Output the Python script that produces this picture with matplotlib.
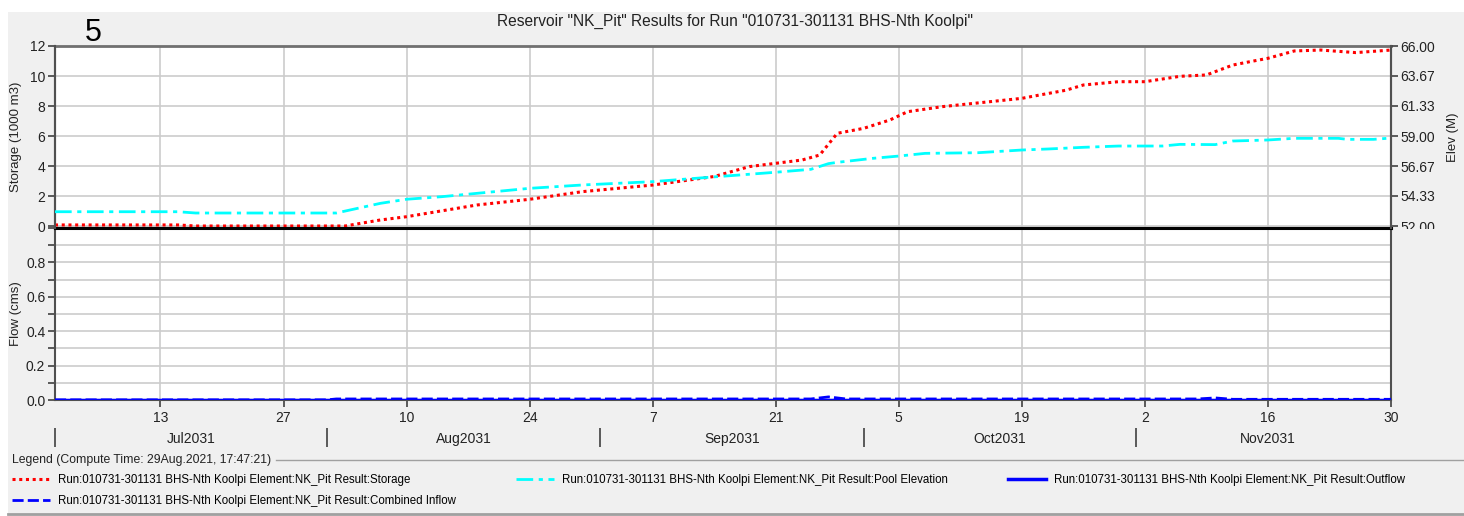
import numpy as np
import pandas as pd
import matplotlib
matplotlib.use('Agg')
import matplotlib.pyplot as plt
import matplotlib.dates as mdates
from matplotlib.lines import Line2D
from matplotlib.patches import Rectangle
from matplotlib.transforms import Bbox, TransformedBbox
from matplotlib.ticker import FixedLocator, NullFormatter, MultipleLocator

plt.rcParams['font.family'] = ['Liberation Sans', 'DejaVu Sans']

# storage (1000 m3)
storage_dates = ['2031-07-01', '2031-07-15', '2031-07-17', '2031-08-03', '2031-08-07', '2031-08-10',
                 '2031-08-18', '2031-08-24', '2031-08-30', '2031-09-07', '2031-09-14', '2031-09-18',
                 '2031-09-21', '2031-09-24', '2031-09-26', '2031-09-28', '2031-10-01', '2031-10-04',
                 '2031-10-06', '2031-10-10', '2031-10-19', '2031-10-21', '2031-10-24', '2031-10-26',
                 '2031-10-30', '2031-11-02', '2031-11-06', '2031-11-09', '2031-11-12', '2031-11-14',
                 '2031-11-16', '2031-11-19', '2031-11-22', '2031-11-26', '2031-11-30']
storage_vals = [0.07, 0.07, 0.0, 0.0, 0.4, 0.62,
                1.4, 1.78, 2.29, 2.73, 3.3, 3.96,
                4.18, 4.4, 4.73, 6.18, 6.51, 7.07,
                7.62, 7.96, 8.51, 8.73, 9.05, 9.4,
                9.62, 9.62, 9.98, 10.07, 10.73, 10.96,
                11.18, 11.67, 11.73, 11.56, 11.73]

# pool elevation (M)
elev_dates = ['2031-07-01', '2031-07-15', '2031-07-17', '2031-08-02', '2031-08-07', '2031-08-10',
              '2031-08-14', '2031-08-24', '2031-08-30', '2031-09-07', '2031-09-14', '2031-09-21',
              '2031-09-25', '2031-09-27', '2031-09-28', '2031-10-02', '2031-10-05', '2031-10-08',
              '2031-10-14', '2031-10-19', '2031-10-22', '2031-10-26', '2031-10-30', '2031-11-04',
              '2031-11-06', '2031-11-10', '2031-11-12', '2031-11-16', '2031-11-19', '2031-11-24',
              '2031-11-25', '2031-11-28', '2031-11-30']
elev_vals = [53.11, 53.11, 53.01, 53.01, 53.76, 54.08,
             54.28, 54.93, 55.19, 55.45, 55.82, 56.18,
             56.41, 56.85, 56.95, 57.26, 57.44, 57.65,
             57.70, 57.91, 57.99, 58.12, 58.22, 58.22,
             58.35, 58.33, 58.61, 58.69, 58.82, 58.82,
             58.74, 58.74, 58.84]

# flows (cms)
inflow_dates = ['2031-07-01', '2031-08-01', '2031-08-02', '2031-09-25', '2031-09-27', '2031-09-29',
                '2031-11-08', '2031-11-10', '2031-11-12', '2031-11-30']
inflow_vals = [0.001, 0.001, 0.006, 0.006, 0.018, 0.006, 0.006, 0.012, 0.004, 0.004]
outflow_dates = ['2031-07-01', '2031-11-30']
outflow_vals = [0.002, 0.002]

months = ['Jul2031', 'Aug2031', 'Sep2031', 'Oct2031', 'Nov2031']

title = 'Reservoir "NK_Pit" Results for Run "010731-301131 BHS-Nth Koolpi"'
run = 'Run:010731-301131 BHS-Nth Koolpi Element:NK_Pit Result:'

W, H = 1464, 516
fig = plt.figure(figsize=(W / 100, H / 100), dpi=100)
fig.patch.set_facecolor('white')
fig.add_artist(Rectangle((8 / W, 0), 1, 1 - 12 / H, transform=fig.transFigure,
                         facecolor='#f0f0f0', edgecolor='none', zorder=-10))

x0, x1 = 55 / W, 1391 / W
ax1 = fig.add_axes([x0, 1 - 228 / H, x1 - x0, (228 - 46) / H])
ax3 = fig.add_axes([x0, 1 - 400 / H, x1 - x0, (400 - 228) / H], sharex=ax1)
ax2 = ax1.twinx()

sd = pd.to_datetime(storage_dates)
ed = pd.to_datetime(elev_dates)
ax1.plot(sd, storage_vals, color='#ff0000', lw=2.2, ls=(0, (1, 1.2)), zorder=3)
ax2.plot(ed, elev_vals, color='#00ffff', lw=2.0, ls=(0, (6, 2, 1.5, 2)), zorder=3)

ax3.plot(pd.to_datetime(outflow_dates), outflow_vals, color='#0000ff', lw=2.5, zorder=3)
ax3.plot(pd.to_datetime(inflow_dates), inflow_vals, color='#0000ff', lw=2.0, ls=(0, (4, 1.5)), zorder=4)

start, end = pd.Timestamp('2031-07-01'), pd.Timestamp('2031-11-30')
ticks = pd.date_range('2031-07-13', end, freq='14D')
ax1.set_xlim(start, end)
ax1.xaxis.set_major_locator(FixedLocator(mdates.date2num(ticks)))

grid_kw = dict(color='#cccccc', lw=1.2)
for ax in (ax1, ax3):
    ax.grid(True, which='both', **grid_kw)
    ax.set_axisbelow(True)
    ax.set_facecolor('white')

ax1.set_ylim(-2 / 15, 12)
ax1.set_yticks([0, 2, 4, 6, 8, 10, 12])
ax2.set_ylim(52 - (2 / 15) * 14 / 12, 66)
ax2.set_yticks(np.linspace(52, 66, 7))
ax2.set_yticklabels([f'{v:.2f}' for v in np.linspace(52, 66, 7)])
ax1.tick_params(axis='x', which='both', bottom=False, labelbottom=False)

ax3.set_ylim(0, 1.0)
ax3.yaxis.set_major_locator(MultipleLocator(0.2))
ax3.yaxis.set_minor_locator(MultipleLocator(0.1))
ax3.set_yticks([0, 0.2, 0.4, 0.6, 0.8])
ax3.set_yticklabels(['0.0', '0.2', '0.4', '0.6', '0.8'])
ax3.set_xticks(mdates.date2num(ticks))
ax3.set_xticklabels([t.strftime('%-d') for t in ticks])

tick_kw = dict(direction='out', length=5, width=1.2, color='#404040', labelsize=10,
               labelcolor='#222222', pad=2)
ax1.tick_params(axis='y', **tick_kw)
ax2.tick_params(axis='y', **tick_kw)
ax3.tick_params(axis='both', which='major', **tick_kw)
ax3.tick_params(axis='y', which='minor', direction='out', length=5, width=1.2, color='#404040')
ax3.tick_params(axis='x', pad=3)

for ax in (ax1, ax2, ax3):
    for s in ax.spines.values():
        s.set_color('#505050')
        s.set_linewidth(1.5)
ax1.spines['top'].set_color('#707070')
ax1.spines['top'].set_linewidth(2)
ax2.spines['top'].set_visible(False)
ax1.spines['bottom'].set_color('black')
ax1.spines['bottom'].set_linewidth(2.2)
ax2.spines['bottom'].set_visible(False)
ax3.spines['top'].set_color('black')
ax3.spines['top'].set_linewidth(2.2)

# clip the right labels to the upper panel
clip = TransformedBbox(Bbox([[0, 1 - 229 / H], [1, 1]]), fig.transFigure)
for lab in ax2.get_yticklabels():
    lab.set_clip_box(clip)
    lab.set_clip_on(True)

ax1.set_ylabel('Storage (1000 m3)', fontsize=9.5, color='#222222')
ax2.set_ylabel('Elev (M)', fontsize=9.5, color='#222222')
ax3.set_ylabel('Flow (cms)', fontsize=9.5, color='#222222')
ax1.yaxis.set_label_coords(-0.0247, 0.5)
ax3.yaxis.set_label_coords(-0.0247, 0.5)
ax2.yaxis.set_label_coords(1 + (1447 - 1391) / 1336, 0.5)

# month row
mstarts = pd.date_range(start, periods=len(months), freq='MS')
mids = [m + pd.Timedelta(days=m.days_in_month / 2) for m in mstarts]
sec = ax3.secondary_xaxis(-28 / 172)
sec.set_xticks(mdates.date2num(mstarts))
sec.xaxis.set_major_formatter(NullFormatter())
sec.set_xticks(mdates.date2num(mids), labels=months, minor=True)
sec.tick_params(axis='x', which='major', direction='out', length=14, width=1.2, color='#404040')
sec.tick_params(axis='x', which='minor', length=0, labelsize=10, labelcolor='#222222', pad=3)
sec.spines['bottom'].set_visible(False)

fig.text(0.502, 1 - 21 / H, title, ha='center', va='center', fontsize=11.2, color='#222222')
fig.text(85 / W, 1 - 33 / H, '5', ha='left', va='center', fontsize=22, color='black')

# legend
fig.text(12 / W, 1 - 460 / H, 'Legend (Compute Time: 29Aug.2021, 17:47:21)', fontsize=8.8,
         va='center', ha='left', color='#222222')
fig.add_artist(Line2D([276 / W, 1], [1 - 460 / H, 1 - 460 / H], transform=fig.transFigure,
                      color='#a0a0a0', lw=1))
fig.add_artist(Line2D([8 / W, 1], [1 - 514 / H, 1 - 514 / H], transform=fig.transFigure,
                      color='#a0a0a0', lw=2))
handles = [
    Line2D([], [], color='#ff0000', lw=2.2, ls=(0, (1, 1.2))),
    Line2D([], [], color='#0000ff', lw=2.0, ls=(0, (4, 1.5))),
    Line2D([], [], color='#00ffff', lw=2.0, ls=(0, (6, 2, 1.5, 2))),
    Line2D([], [], color='#0000ff', lw=2.5),
]
labels = [run + 'Storage', run + 'Combined Inflow', run + 'Pool Elevation', run + 'Outflow']
fig.legend(handles, labels, ncol=3, loc='upper left', bbox_to_anchor=(12 / W, 1 - 474 / H),
           frameon=False, fontsize=8.3, handlelength=3.3, handletextpad=0.7,
           columnspacing=5.2, labelspacing=0.78, borderaxespad=0, borderpad=0)

fig.savefig('out.png', dpi=100)
